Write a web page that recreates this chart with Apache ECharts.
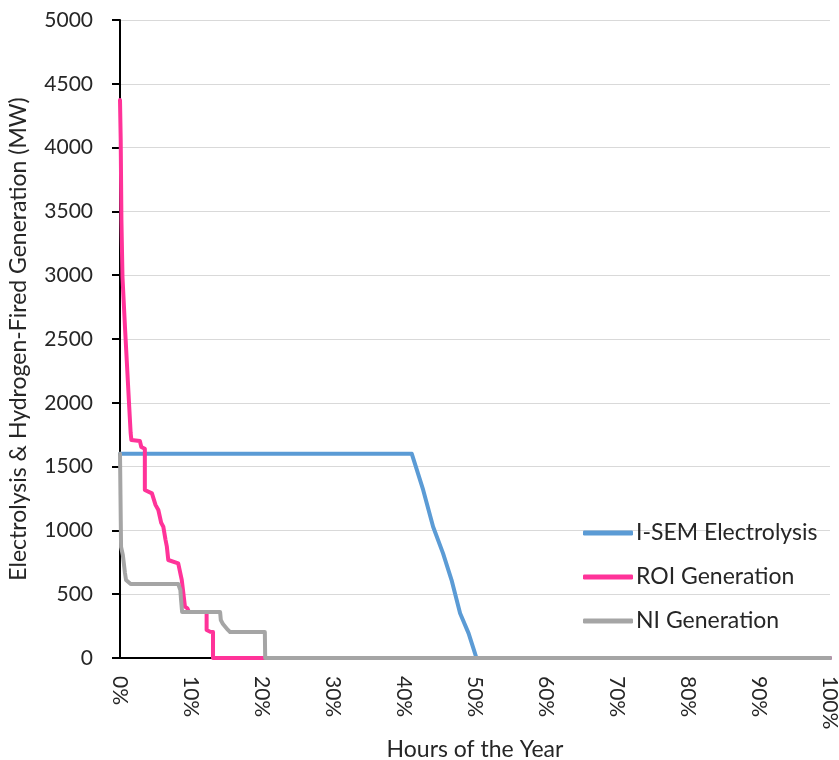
<!DOCTYPE html>
<html><head><meta charset="utf-8">
<script src="https://cdn.jsdelivr.net/npm/echarts@6/dist/echarts.min.js"></script>
<style>html,body{margin:0;padding:0;background:#fff}#c{width:839px;height:760px}</style>
</head><body><div id="c"></div>
<script>
var seriesNames = ['I-SEM Electrolysis', 'ROI Generation', 'NI Generation'];
var xTicks = [0,10,20,30,40,50,60,70,80,90,100];
var yTicks = [0,500,1000,1500,2000,2500,3000,3500,4000,4500,5000];
// [hours %, MW]
var isemElectrolysis = [[0,1600],[41.1,1600],[41.3,1590],[42.7,1317],[44.1,1029],[45.5,820],[46.7,611],[47.9,350],[49.1,193],[50.0,37],[50.2,0],[100,0]];
var roiGeneration = [[0,4373],[0.1,4060],[0.2,3433],[0.35,2986],[0.7,2594],[1.3,1967],[1.5,1763],[1.6,1708],[2.8,1700],[3.0,1654],[3.5,1640],[3.5,1317],[4.5,1290],[4.7,1291],[5.0,1200],[5.4,1160],[5.8,1060],[6.1,1029],[6.4,930],[6.6,872],[6.8,768],[8.2,742],[8.7,611],[9.15,402],[9.5,389],[9.7,360],[12.2,360],[12.2,219],[12.7,206],[12.9,204],[13.1,204],[13.1,0],[100,0]];
var niGeneration = [[0,1600],[0.1,1600],[0.15,870],[0.4,807],[0.7,666],[0.85,611],[1.5,580],[8.2,580],[8.5,533],[8.6,455],[8.75,360],[14.1,360],[14.2,298],[14.5,266],[15.2,220],[15.5,204],[20.4,204],[20.45,0],[100,0]];

var colors = ['#5B9BD5', '#FF3399', '#A5A5A5'];
var font = 'Lato, "Open Sans", sans-serif';
var txt = '#262626';
var chart = echarts.init(document.getElementById('c'), null, {renderer:'canvas'});
function mk(name, data, color){
  return {name:name, type:'line', data:data, showSymbol:false, symbol:'none', smooth:false,
    lineStyle:{color:color, width:4, cap:'round', join:'round'}, itemStyle:{color:color}, animation:false};
}
chart.setOption({
  animation:false,
  textStyle:{fontFamily:font},
  grid:{left:120, right:9, top:20, bottom:102, containLabel:false, outerBoundsMode:'none'},
  legend:{orient:'vertical', left:578, top:516, itemWidth:50, itemHeight:5, itemGap:20, icon:'roundRect',
    textStyle:{fontSize:23, lineHeight:24, color:txt, fontFamily:font, padding:[0,0,0,-2]},
    data:seriesNames},
  xAxis:{type:'value', min:0, max:100, interval:10,
    name:'Hours of the Year', nameLocation:'middle', nameGap:80,
    nameTextStyle:{fontSize:23, color:txt, fontFamily:font},
    axisLine:{show:true, onZero:false, lineStyle:{color:'#000', width:2}},
    axisTick:{show:false},
    splitLine:{show:false},
    axisLabel:{formatter:'{value}%', rotate:-90, fontSize:21, color:txt, margin:18, fontFamily:font}},
  yAxis:{type:'value', min:0, max:5000, interval:500,
    name:'Electrolysis & Hydrogen-Fired Generation (MW)', nameLocation:'middle', nameGap:90,
    nameTextStyle:{fontSize:23, color:txt, fontFamily:font},
    axisLine:{show:true, lineStyle:{color:'#000', width:2}},
    axisTick:{show:true, length:8, inside:false, lineStyle:{color:'#000', width:2}},
    splitLine:{show:true, lineStyle:{color:'#d9d9d9', width:1}},
    axisLabel:{formatter:function(v){return String(v);}, fontSize:21, color:txt, margin:27, fontFamily:font}},
  series:[mk(seriesNames[0], isemElectrolysis, colors[0]), mk(seriesNames[1], roiGeneration, colors[1]), mk(seriesNames[2], niGeneration, colors[2])]
});
</script></body></html>
